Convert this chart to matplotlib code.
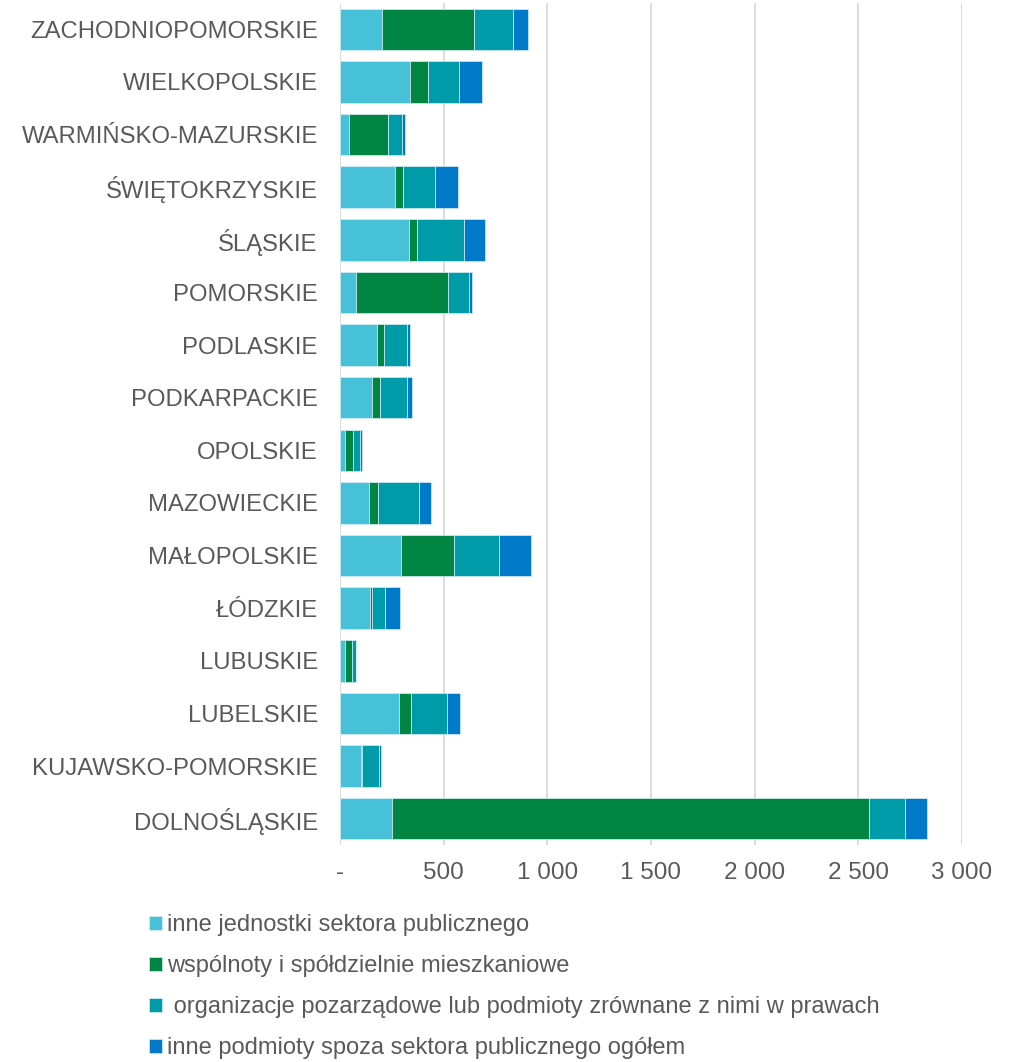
import matplotlib.pyplot as plt
from matplotlib.ticker import FuncFormatter

plt.rcParams['font.family'] = ['Liberation Sans', 'DejaVu Sans']

# Regions, bottom to top as drawn
regions = ["DOLNOŚLĄSKIE", "KUJAWSKO-POMORSKIE", "LUBELSKIE", "LUBUSKIE", "ŁÓDZKIE",
           "MAŁOPOLSKIE", "MAZOWIECKIE", "OPOLSKIE", "PODKARPACKIE", "PODLASKIE",
           "POMORSKIE", "ŚLĄSKIE", "ŚWIĘTOKRZYSKIE", "WARMIŃSKO-MAZURSKIE",
           "WIELKOPOLSKIE", "ZACHODNIOPOMORSKIE"]

public_units = [253, 103, 284, 24, 143, 294, 140, 26, 153, 178, 77, 331, 263, 42, 336, 201]
housing = [2298, 1, 58, 34, 11, 257, 45, 37, 41, 36, 445, 40, 40, 189, 89, 446]
ngo = [176, 82, 172, 19, 64, 216, 194, 35, 127, 107, 101, 228, 156, 66, 147, 188]
other = [104, 11, 67, 2, 72, 154, 58, 6, 26, 15, 16, 99, 109, 16, 111, 72]

series_names = ["inne jednostki sektora publicznego",
                "wspólnoty i spółdzielnie mieszkaniowe",
                " organizacje pozarządowe lub podmioty zrównane z nimi w prawach",
                "inne podmioty spoza sektora publicznego ogółem"]
colors = ['#47C1D8', '#008542', '#009BA8', '#0079C8']

fig = plt.figure(figsize=(10.12, 10.62), dpi=100)
ax = fig.add_axes([340 / 1012, 1 - 845 / 1062, (962 - 340) / 1012, 842 / 1062])

y = list(range(len(regions)))
left = [0] * len(regions)
for vals, name, col in zip([public_units, housing, ngo, other], series_names, colors):
    ax.barh(y, vals, left=left, height=0.79, color=col, label=name,
            edgecolor='#D8EEF5', linewidth=0.5, zorder=3)
    left = [a + b for a, b in zip(left, vals)]

ax.set_xlim(0, 3000)
ax.set_ylim(-0.5, len(regions) - 0.5)
ax.set_xticks(range(0, 3001, 500))
ax.xaxis.set_major_formatter(FuncFormatter(
    lambda v, p: '-' if v == 0 else f"{int(v):,}".replace(',', ' ')))
ax.set_yticks(y)
ax.set_yticklabels(regions)
ax.grid(axis='x', color='#D9D9D9', linewidth=1.3, zorder=0)
for s in ax.spines.values():
    s.set_visible(False)
ax.tick_params(axis='y', length=0, pad=16, labelsize=17.2, labelcolor='#595959')
ax.tick_params(axis='x', length=0, pad=12, labelsize=17.5, labelcolor='#595959')

fig.legend(loc='upper left', bbox_to_anchor=(140 / 1012, 1 - 905 / 1062),
           frameon=False, ncol=1, fontsize=17, labelcolor='#595959',
           handlelength=0.55, handleheight=0.55, handletextpad=0.2,
           labelspacing=0.8, borderaxespad=0)

plt.savefig('out.png', dpi=100)
